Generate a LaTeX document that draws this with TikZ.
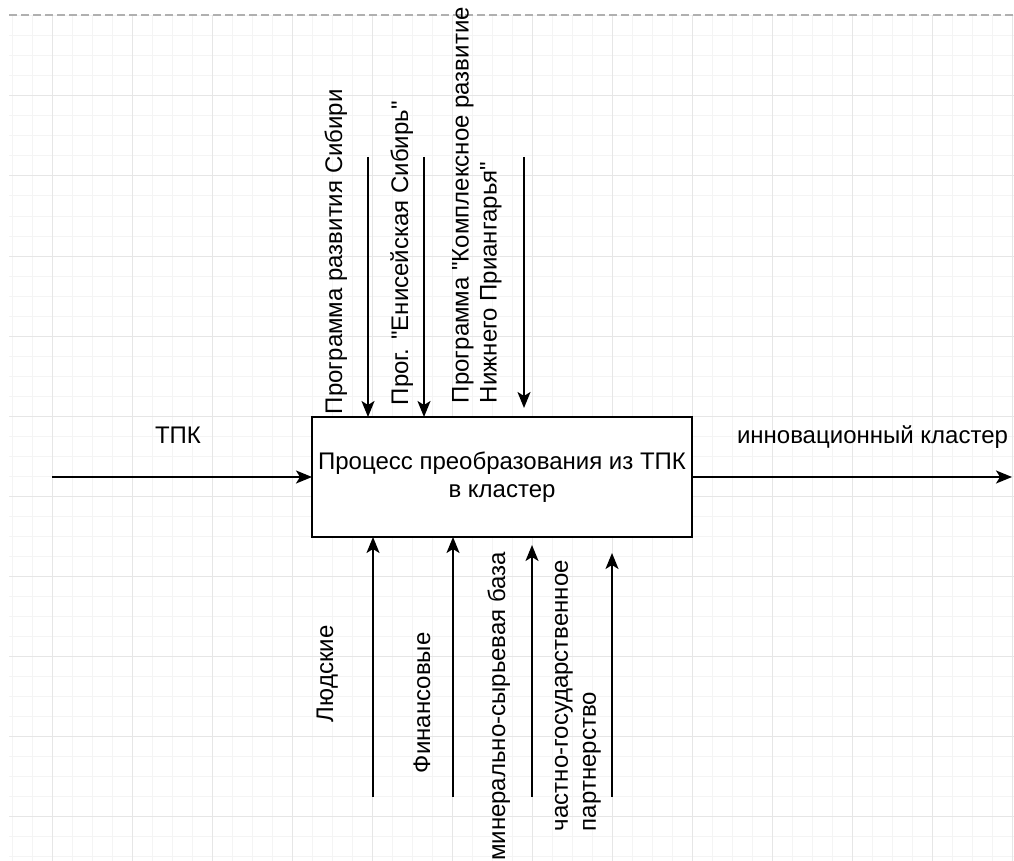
\documentclass[tikz,border=0pt]{standalone}
\usepackage{fontspec}
\setmainfont{Liberation Sans}[Ligatures=TeXOff]
\usetikzlibrary{arrows.meta}
\definecolor{gmin}{HTML}{F4F4F4}
\definecolor{gmaj}{HTML}{E6E6E6}
\definecolor{dashcol}{HTML}{B0B0B0}
\begin{document}
\begin{tikzpicture}[x=1pt,y=-1pt,
  every node/.style={inner sep=0pt, outer sep=0pt},
  txt/.style={font=\fontsize{24}{28}\selectfont},
  vtxt/.style={txt, rotate=90, align=left},
  flow/.style={draw=black, line width=1.8pt, -{Stealth[length=16pt,width=13pt,inset=4pt]}},
  gridminor/.style={draw=gmin, line width=1pt},
  gridmajor/.style={draw=gmaj, line width=1pt},
  pageedge/.style={draw=dashcol, line width=1.5pt, dash pattern=on 8pt off 4pt},
  procbox/.style={draw=black, line width=1.6pt, fill=white, minimum width=380pt,
    minimum height=120pt, align=center, txt}]
\useasboundingbox (0,0) rectangle (1014,861);
\fill[white] (0,0) rectangle (1014,861);
% grid
\foreach \x in {12,32,...,1012} \draw[gridminor] (\x,15) -- (\x,861);
\foreach \y in {16,36,...,856} \draw[gridminor] (9,\y) -- (1014,\y);
\foreach \x in {52,132,...,1012} \draw[gridmajor] (\x,15) -- (\x,861);
\foreach \y in {96,176,...,816} \draw[gridmajor] (9,\y) -- (1014,\y);
\draw[pageedge] (9,15) -- (1014,15);
% process box
\node[procbox] (proc) at (502,477) {Процесс преобразования из ТПК\\в кластер};
% input / output
\coordinate (inS) at (52,477);
\coordinate (outE) at (1012,477);
\draw[flow] (inS) -- (proc.west);
\draw[flow] (proc.east) -- (outE);
\node[txt, anchor=base west] (lblin) at (155,443) {ТПК};
\node[txt, anchor=base west] (lblout) at (737,443) {инновационный кластер};
% controls (top)
\coordinate (t1) at (368,157);
\coordinate (t2) at (424,157);
\coordinate (t3) at (524,157);
\coordinate (t3e) at (524,408);
\draw[flow] (t1) -- (t1 |- proc.north);
\draw[flow] (t2) -- (t2 |- proc.north);
\draw[flow] (t3) -- (t3e);
\node[vtxt, anchor=base west] (c1) at (342,414) {Программа развития Сибири};
\node[vtxt, anchor=base west] (c2) at (408,405) {Прог. "Енисейская Сибирь"};
\node[vtxt, anchor=north west] (c3) at (452,403) {Программа "Комплексное развитие\\Нижнего Приангарья"};
% mechanisms (bottom)
\coordinate (b1) at (373,797);
\coordinate (b2) at (453,797);
\coordinate (b3) at (532,797);
\coordinate (b4) at (612,797);
\coordinate (b3e) at (532,545);
\coordinate (b4e) at (612,553);
\draw[flow] (b1) -- (b1 |- proc.south);
\draw[flow] (b2) -- (b2 |- proc.south);
\draw[flow] (b3) -- (b3e);
\draw[flow] (b4) -- (b4e);
\node[vtxt, anchor=base west] (m1) at (333,722) {Людские};
\node[vtxt, anchor=base west] (m2) at (430,773) {Финансовые};
\node[vtxt, anchor=base east] (m3) at (505,552) {минерально-сырьевая база};
\node[vtxt, anchor=north west] (m4) at (555,831) {частно-государственное\\партнерство};
\end{tikzpicture}
\end{document}
